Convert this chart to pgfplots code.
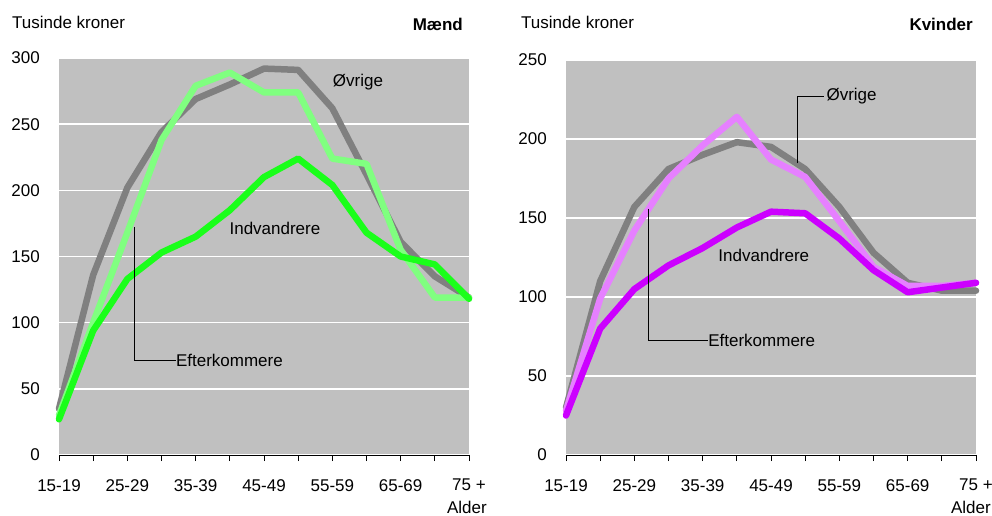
\documentclass[border=0pt]{standalone}
\usepackage{pgfplots}
\pgfplotsset{compat=1.18}
\usepackage{fontspec}
\setmainfont{Liberation Sans}
\definecolor{bg}{RGB}{192,192,192}
\definecolor{ovr}{RGB}{128,128,128}
\definecolor{lgreen}{RGB}{128,255,128}
\definecolor{bgreen}{RGB}{26,255,26}
\definecolor{pink}{RGB}{230,128,255}
\definecolor{purp}{RGB}{204,0,255}
\newcommand{\fs}{\fontsize{17}{20}\selectfont}
\pgfplotsset{
  panel/.style={
    scale only axis, width=410pt,
    xmin=0, xmax=12,
    axis background/.style={fill=bg},
    axis x line*=bottom, axis y line*=left,
    x axis line style={black, line width=0.8pt},
    y axis line style={draw=none},
    xtick={0,...,12},
    xticklabels={15-19,,25-29,,35-39,,45-49,,55-59,,65-69,,75 +},
    xtick pos=bottom, tick align=outside,
    major tick length=6pt,
    xtick style={black, line width=0.8pt},
    ytick style={draw=none},
    ymajorgrids, grid style={white, line width=1.5pt},
    /pgf/number format/assume math mode=true,
    tick label style={font=\fs},
    xticklabel style={inner sep=0pt, yshift=-18pt},
    yticklabel style={inner sep=0pt, anchor=east, xshift=-13pt},
    every axis plot/.append style={line width=6.5pt, line cap=round, line join=round, no marks},
    clip=false,
  }
}
\begin{document}
\fs
\begin{tikzpicture}
\path[use as bounding box] (0pt,0pt) rectangle (992pt,515pt);
% Left panel
\begin{axis}[panel, at={(59pt,60pt)}, anchor=south west, height=397pt,
  ymin=0, ymax=300, ytick={0,50,...,300}]
\addplot[ovr] coordinates {(0,35)(1,136)(2,202)(3,244)(4,269)(5,280)(6,292)(7,291)(8,262)(9,212)(10,161)(11,135)(12,119)};
\addplot[lgreen] coordinates {(0,30)(1,100)(2,168)(3,238)(4,279)(5,289)(6,274)(7,274)(8,224)(9,220)(10,155)(11,119)(12,119)};
\addplot[bgreen] coordinates {(0,27)(1,94)(2,133)(3,153)(4,165)(5,185)(6,210)(7,224)(8,204)(9,168)(10,150)(11,144)(12,118)};
\node[font=\fs] at (axis cs:8.75,282) {Øvrige};
\node[font=\fs] at (axis cs:6.32,171.5) {Indvandrere};
\draw[black, line width=0.6pt] (axis cs:2.195,172.3) -- (axis cs:2.195,71.8) -- (axis cs:3.42,71.8);
\node[font=\fs, anchor=west, inner sep=0pt] at (axis cs:3.42,71.8) {Efterkommere};
\end{axis}
% Right panel
\begin{axis}[panel, at={(566pt,60pt)}, anchor=south west, height=395pt,
  ymin=0, ymax=250, ytick={0,50,...,250}]
\addplot[ovr] coordinates {(0,30)(1,110)(2,157)(3,181)(4,190)(5,198)(6,195)(7,181)(8,157)(9,128)(10,109)(11,104)(12,104)};
\addplot[pink] coordinates {(0,28)(1,99)(2,142)(3,175)(4,196)(5,214)(6,187)(7,176)(8,148)(9,119)(10,107)(11,107)(12,109)};
\addplot[purp] coordinates {(0,25)(1,80)(2,105)(3,120)(4,131)(5,144)(6,154)(7,153)(8,137)(9,117)(10,103)(11,106)(12,109)};
\draw[black, line width=0.6pt] (axis cs:6.78,184.6) -- (axis cs:6.78,227.2) -- (axis cs:7.55,227.2);
\node[font=\fs, anchor=west, inner sep=0pt] at (axis cs:7.62,227.2) {Øvrige};
\node[font=\fs] at (axis cs:5.79,126.6) {Indvandrere};
\draw[black, line width=0.6pt] (axis cs:2.42,155.7) -- (axis cs:2.42,72.5) -- (axis cs:4.16,72.5);
\node[font=\fs, anchor=west, inner sep=0pt] at (axis cs:4.16,72.5) {Efterkommere};
\end{axis}
% Titles
\node[anchor=west, inner sep=0pt, font=\fs] at (12pt,493pt) {Tusinde kroner};
\node[anchor=east, inner sep=0pt, font=\fs\bfseries] at (463pt,491pt) {Mænd};
\node[anchor=west, inner sep=0pt, font=\fs] at (521pt,493pt) {Tusinde kroner};
\node[anchor=east, inner sep=0pt, font=\fs\bfseries] at (973pt,491pt) {Kvinder};
\node[anchor=base east, inner sep=0pt, font=\fs] at (487pt,2pt) {Alder};
\node[anchor=base east, inner sep=0pt, font=\fs] at (991pt,2pt) {Alder};
\end{tikzpicture}
\end{document}
